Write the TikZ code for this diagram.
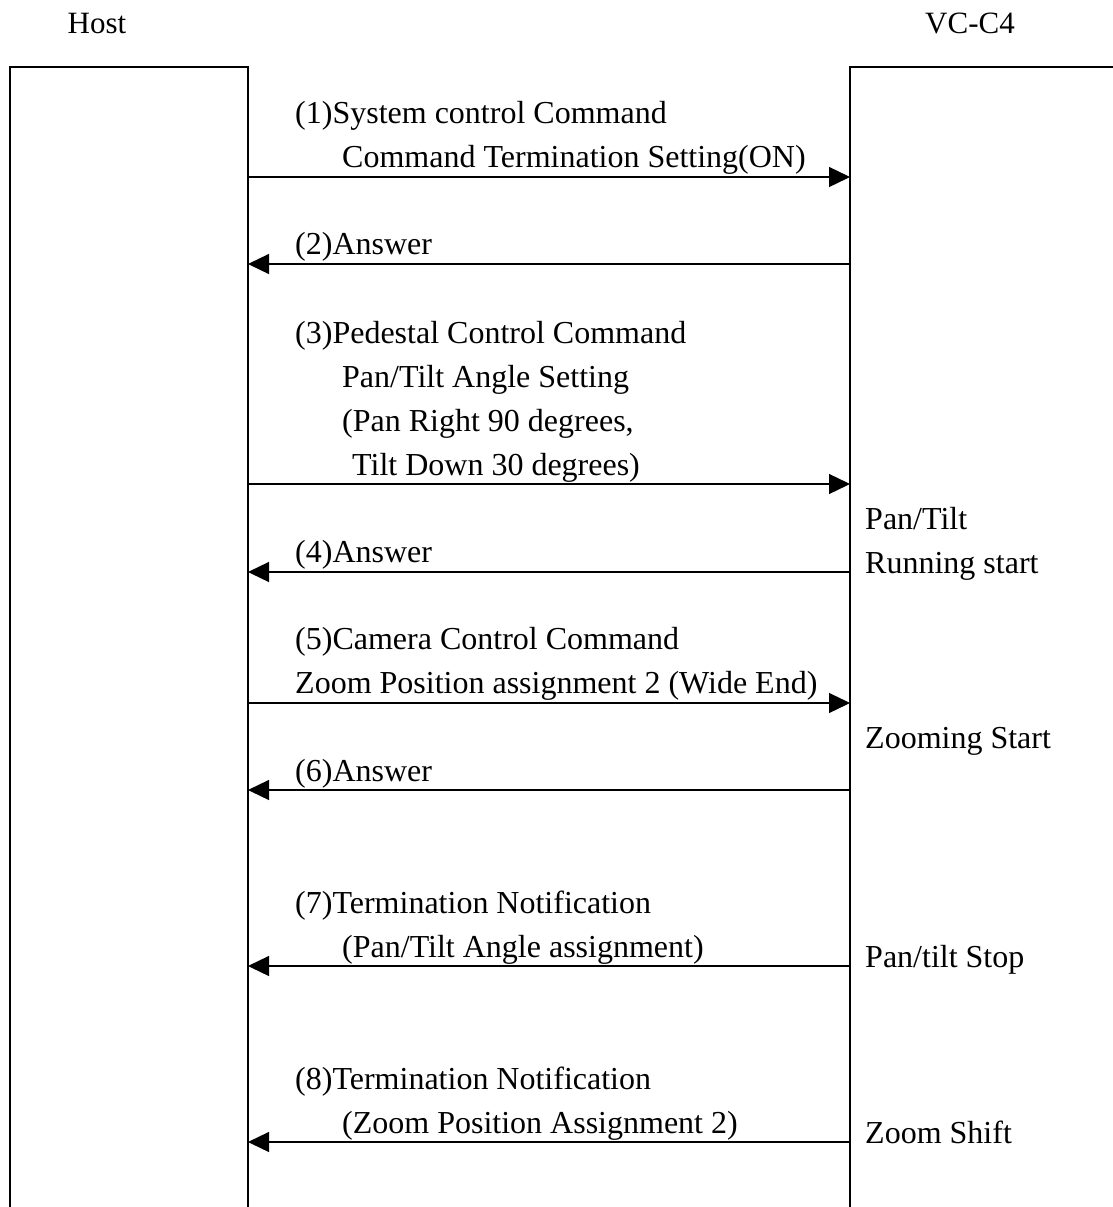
\documentclass[tikz,border=0pt]{standalone}
\usepackage{fontspec}
\setmainfont{Liberation Serif}
\usetikzlibrary{arrows.meta}
\begin{document}
\begin{tikzpicture}[x=1pt,y=-1pt,
  lbl/.style={anchor=base west,inner sep=0pt,font=\fontsize{32}{38}\selectfont},
  life/.style={line width=1.3pt},
  msg/.style={line width=1.3pt,-{Triangle[length=21pt,width=20pt]}}]
\useasboundingbox (0,0) rectangle (1113,1207);
% headers
\node[anchor=base,inner sep=0pt,font=\fontsize{31}{38}\selectfont] (host) at (97,34) {Host};
\node[anchor=base,inner sep=0pt,font=\fontsize{31}{38}\selectfont] (vc) at (970,34) {VC-C4};
% lifelines
\coordinate (hb0) at (10,1207); \coordinate (ht0) at (10,67);
\coordinate (ht1) at (248,67); \coordinate (hb1) at (248,1207);
\coordinate (vb0) at (850,1207); \coordinate (vt0) at (850,67);
\coordinate (vt1) at (1113,67);
\draw[life] (hb0) -- (ht0) -- (ht1) -- (hb1);
\draw[life] (vb0) -- (vt0) -- (vt1);
% message anchor points
\foreach \i/\y in {1/177,2/264,3/484,4/572,5/703,6/790,7/966,8/1142}{
  \coordinate (h\i) at (248,\y);
  \coordinate (v\i) at (850,\y);
}
\draw[msg] (h1) -- (v1);
\draw[msg] (v2) -- (h2);
\draw[msg] (h3) -- (v3);
\draw[msg] (v4) -- (h4);
\draw[msg] (h5) -- (v5);
\draw[msg] (v6) -- (h6);
\draw[msg] (v7) -- (h7);
\draw[msg] (v8) -- (h8);
% labels
\node[lbl] (t1a) at (295,123) {(1)System control Command};
\node[lbl] (t1b) at (342,167) {Command Termination Setting(ON)};
\node[lbl] (t2) at (295,254) {(2)Answer};
\node[lbl] (t3a) at (295,343) {(3)Pedestal Control Command};
\node[lbl] (t3b) at (342,387) {Pan/Tilt Angle Setting};
\node[lbl] (t3c) at (342,431) {(Pan Right 90 degrees,};
\node[lbl] (t3d) at (352,475) {Tilt Down 30 degrees)};
\node[lbl] (t4) at (295,562) {(4)Answer};
\node[lbl] (t5a) at (295,649) {(5)Camera Control Command};
\node[lbl] (t5b) at (295,693) {Zoom Position assignment 2 (Wide End)};
\node[lbl] (t6) at (295,781) {(6)Answer};
\node[lbl] (t7a) at (295,913) {(7)Termination Notification};
\node[lbl] (t7b) at (342,957) {(Pan/Tilt Angle assignment)};
\node[lbl] (t8a) at (295,1089) {(8)Termination Notification};
\node[lbl] (t8b) at (342,1133) {(Zoom Position Assignment 2)};
% right-side state labels
\node[lbl] (s1a) at (865,529) {Pan/Tilt};
\node[lbl] (s1b) at (865,573) {Running start};
\node[lbl] (s2) at (865,748) {Zooming Start};
\node[lbl] (s3) at (865,967) {Pan/tilt Stop};
\node[lbl] (s4) at (865,1143) {Zoom Shift};
\end{tikzpicture}
\end{document}
